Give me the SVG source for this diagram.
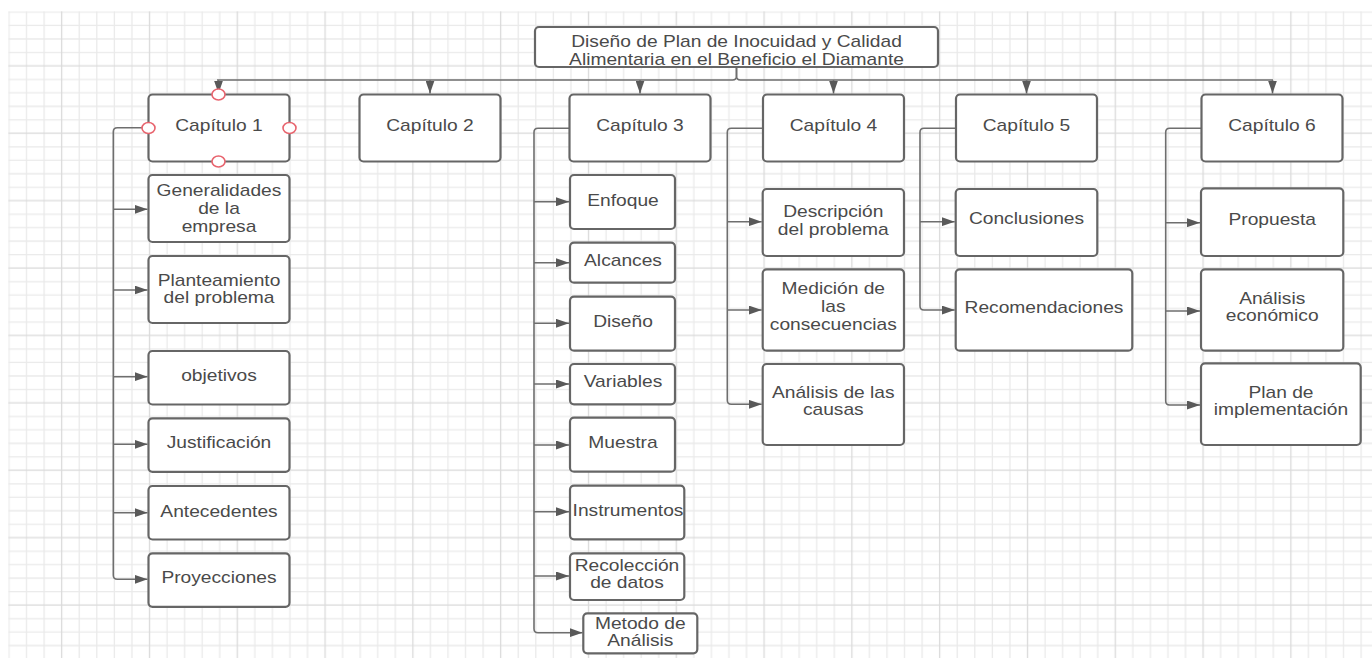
<svg xmlns="http://www.w3.org/2000/svg" width="1372" height="658" viewBox="0 0 1372 658">
<defs>
<pattern id="grid" patternUnits="userSpaceOnUse" x="0.22" y="5.26" width="87.8" height="67.4">
<path d="M8.78,0V67.4M26.34,0V67.4M43.9,0V67.4M79.02,0V67.4M0,6.74H87.8M0,20.22H87.8M0,33.7H87.8M0,47.18H87.8" stroke="#eaeaea" stroke-width="1.3" fill="none"/>
<path d="M61.46,0V67.4M0,60.66H87.8" stroke="#dadada" stroke-width="1.3" fill="none"/>
</pattern>
<marker id="ah" markerUnits="userSpaceOnUse" markerWidth="13" markerHeight="9" refX="13" refY="4.5" orient="auto">
<path d="M0,0 L13,4.5 L0,9 Z" fill="#595959"/>
</marker>
<style>
.box{fill:#ffffff;stroke:#666666;stroke-width:2.2}
.t{font-family:"Liberation Sans",Arial,sans-serif;font-size:16px;fill:#4a4a4a;text-anchor:middle}
.c{fill:none;stroke:#6e6e6e;stroke-width:1.6}
.a{fill:none;stroke:#6e6e6e;stroke-width:1.6;marker-end:url(#ah)}
.h{fill:#ffffff;stroke:#e8646e;stroke-width:1.6}
</style>
</defs>
<rect x="0" y="0" width="1372" height="658" fill="#ffffff"/>
<rect x="8.3" y="11.3" width="1364" height="647" fill="url(#grid)"/>

<g id="connectors">
<path class="c" d="M736.5,67 V76 Q736.5,80 732.5,80 H217"/>
<path class="c" d="M736.5,67 V76 Q736.5,80 740.5,80 H1273"/>
<path class="a" d="M218.5,80 V93.5"/>
<path class="a" d="M430,80 V93.5"/>
<path class="a" d="M640,80 V93.5"/>
<path class="a" d="M833.5,80 V93.5"/>
<path class="a" d="M1026.5,80 V93.5"/>
<path class="a" d="M1272.5,80 V93.5"/>
<!-- column 1 -->
<path class="a" d="M148.5,127.7 H117.3 Q113.3,127.7 113.3,131.7 V575.3 Q113.3,579.3 117.3,579.3 H147.5"/>
<path class="a" d="M113.3,209.3 H147.5"/>
<path class="a" d="M113.3,290 H147.5"/>
<path class="a" d="M113.3,376.7 H147.5"/>
<path class="a" d="M113.3,444.3 H147.5"/>
<path class="a" d="M113.3,512.7 H147.5"/>
<!-- column 3 -->
<path class="a" d="M569.5,128.3 H538 Q534,128.3 534,132.3 V628.7 Q534,632.7 538,632.7 H582.5"/>
<path class="a" d="M534,201.7 H569"/>
<path class="a" d="M534,262.7 H569"/>
<path class="a" d="M534,323.3 H569"/>
<path class="a" d="M534,384 H569"/>
<path class="a" d="M534,445 H569"/>
<path class="a" d="M534,511.7 H569"/>
<path class="a" d="M534,576 H569"/>
<!-- column 4 -->
<path class="a" d="M763,128.3 H731.3 Q727.3,128.3 727.3,132.3 V400.3 Q727.3,404.3 731.3,404.3 H761.7"/>
<path class="a" d="M727.3,221.7 H761.7"/>
<path class="a" d="M727.3,310 H761.7"/>
<!-- column 5 -->
<path class="a" d="M956,128.3 H924 Q920,128.3 920,132.3 V306 Q920,310 924,310 H954.7"/>
<path class="a" d="M920,221.7 H954.7"/>
<!-- column 6 -->
<path class="a" d="M1201.5,128.3 H1169.7 Q1165.7,128.3 1165.7,132.3 V401 Q1165.7,405 1169.7,405 H1200"/>
<path class="a" d="M1165.7,222.7 H1200"/>
<path class="a" d="M1165.7,311 H1200"/>
</g>

<g id="title">
<rect class="box" x="535" y="27" width="403" height="40" rx="4"/>
<text class="t" transform="translate(736.5,47.2) scale(1.2,1)"><tspan x="0">Diseño de Plan de Inocuidad y Calidad</tspan><tspan x="0" dy="17.6">Alimentaria en el Beneficio el Diamante</tspan></text>
</g>

<g id="cap1"><rect class="box" x="148.5" y="94.5" width="141" height="67" rx="4"/><text class="t" transform="translate(219,130.5) scale(1.2,1)">Capítulo 1</text></g>
<g id="cap2"><rect class="box" x="359.5" y="94.5" width="141" height="67" rx="4"/><text class="t" transform="translate(430,130.5) scale(1.2,1)">Capítulo 2</text></g>
<g id="cap3"><rect class="box" x="569.5" y="94.5" width="141" height="67" rx="4"/><text class="t" transform="translate(640,130.5) scale(1.2,1)">Capítulo 3</text></g>
<g id="cap4"><rect class="box" x="763" y="94.5" width="141" height="67" rx="4"/><text class="t" transform="translate(833.5,130.5) scale(1.2,1)">Capítulo 4</text></g>
<g id="cap5"><rect class="box" x="956" y="94.5" width="141" height="67" rx="4"/><text class="t" transform="translate(1026.5,130.5) scale(1.2,1)">Capítulo 5</text></g>
<g id="cap6"><rect class="box" x="1201.5" y="94.5" width="141" height="67" rx="4"/><text class="t" transform="translate(1272,130.5) scale(1.2,1)">Capítulo 6</text></g>

<g id="generalidades"><rect class="box" x="148.5" y="175" width="141" height="67" rx="4"/><text class="t" transform="translate(219,196) scale(1.2,1)"><tspan x="0">Generalidades</tspan><tspan x="0" dy="18">de la</tspan><tspan x="0" dy="18">empresa</tspan></text></g>
<g id="planteamiento"><rect class="box" x="148.5" y="256" width="141" height="67" rx="4"/><text class="t" transform="translate(219,285.5) scale(1.2,1)"><tspan x="0">Planteamiento</tspan><tspan x="0" dy="17.5">del problema</tspan></text></g>
<g id="objetivos"><rect class="box" x="148.5" y="351" width="141" height="53.5" rx="4"/><text class="t" transform="translate(219,381) scale(1.2,1)">objetivos</text></g>
<g id="justificacion"><rect class="box" x="148.5" y="418.3" width="141" height="53.5" rx="4"/><text class="t" transform="translate(219,448) scale(1.2,1)">Justificación</text></g>
<g id="antecedentes"><rect class="box" x="148.5" y="486" width="141" height="53.5" rx="4"/><text class="t" transform="translate(219,517) scale(1.2,1)">Antecedentes</text></g>
<g id="proyecciones"><rect class="box" x="148.5" y="553.3" width="141" height="53.5" rx="4"/><text class="t" transform="translate(219,583) scale(1.2,1)">Proyecciones</text></g>

<g id="enfoque"><rect class="box" x="570" y="175" width="105" height="54" rx="4"/><text class="t" transform="translate(623,205.5) scale(1.2,1)">Enfoque</text></g>
<g id="alcances"><rect class="box" x="570" y="242.7" width="105" height="40" rx="4"/><text class="t" transform="translate(623,265.5) scale(1.2,1)">Alcances</text></g>
<g id="diseno"><rect class="box" x="570" y="296.7" width="105" height="54" rx="4"/><text class="t" transform="translate(623,326.5) scale(1.2,1)">Diseño</text></g>
<g id="variables"><rect class="box" x="570" y="364" width="105" height="40.3" rx="4"/><text class="t" transform="translate(623,387) scale(1.2,1)">Variables</text></g>
<g id="muestra"><rect class="box" x="570" y="417.7" width="105" height="54" rx="4"/><text class="t" transform="translate(623,448) scale(1.2,1)">Muestra</text></g>
<g id="instrumentos"><rect class="box" x="570" y="485.7" width="114.3" height="53.6" rx="4"/><text class="t" transform="translate(628,515.5) scale(1.2,1)">Instrumentos</text></g>
<g id="recoleccion"><rect class="box" x="570" y="553.3" width="114.3" height="46.7" rx="4"/><text class="t" transform="translate(627,570.5) scale(1.2,1)"><tspan x="0">Recolección</tspan><tspan x="0" dy="17.5">de datos</tspan></text></g>
<g id="metodo"><rect class="box" x="583.3" y="613.3" width="114" height="40" rx="4"/><text class="t" transform="translate(640.3,628.8) scale(1.2,1)"><tspan x="0">Metodo de</tspan><tspan x="0" dy="17.4">Análisis</tspan></text></g>

<g id="descripcion"><rect class="box" x="762.7" y="189" width="141.3" height="67" rx="4"/><text class="t" transform="translate(833.3,217) scale(1.2,1)"><tspan x="0">Descripción</tspan><tspan x="0" dy="17.6">del problema</tspan></text></g>
<g id="medicion"><rect class="box" x="762.7" y="269.3" width="141.3" height="81.4" rx="4"/><text class="t" transform="translate(833.3,293.8) scale(1.2,1)"><tspan x="0">Medición de</tspan><tspan x="0" dy="18">las</tspan><tspan x="0" dy="18.5">consecuencias</tspan></text></g>
<g id="analisis-causas"><rect class="box" x="762.7" y="364" width="141.3" height="81" rx="4"/><text class="t" transform="translate(833.3,397.8) scale(1.2,1)"><tspan x="0">Análisis de las</tspan><tspan x="0" dy="17.7">causas</tspan></text></g>

<g id="conclusiones"><rect class="box" x="955.7" y="189" width="141.6" height="67" rx="4"/><text class="t" transform="translate(1026.5,223.8) scale(1.2,1)">Conclusiones</text></g>
<g id="recomendaciones"><rect class="box" x="955.7" y="269.3" width="176.6" height="81.4" rx="4"/><text class="t" transform="translate(1044,312.8) scale(1.2,1)">Recomendaciones</text></g>

<g id="propuesta"><rect class="box" x="1201" y="188.3" width="142.3" height="67.7" rx="4"/><text class="t" transform="translate(1272.2,224.8) scale(1.2,1)">Propuesta</text></g>
<g id="analisis-economico"><rect class="box" x="1201" y="269.3" width="142.3" height="81.4" rx="4"/><text class="t" transform="translate(1272.2,303.8) scale(1.2,1)"><tspan x="0">Análisis</tspan><tspan x="0" dy="17.7">económico</tspan></text></g>
<g id="plan"><rect class="box" x="1201" y="363.3" width="159.7" height="81.7" rx="4"/><text class="t" transform="translate(1281,398.2) scale(1.2,1)"><tspan x="0">Plan de</tspan><tspan x="0" dy="17.3">implementación</tspan></text></g>

<g id="handles">
<ellipse class="h" cx="218.5" cy="94.5" rx="6.5" ry="5.5"/>
<ellipse class="h" cx="148.5" cy="128" rx="6.5" ry="5.5"/>
<ellipse class="h" cx="289.5" cy="128" rx="6.5" ry="5.5"/>
<ellipse class="h" cx="218.5" cy="161.5" rx="6.5" ry="5.5"/>
</g>
</svg>
